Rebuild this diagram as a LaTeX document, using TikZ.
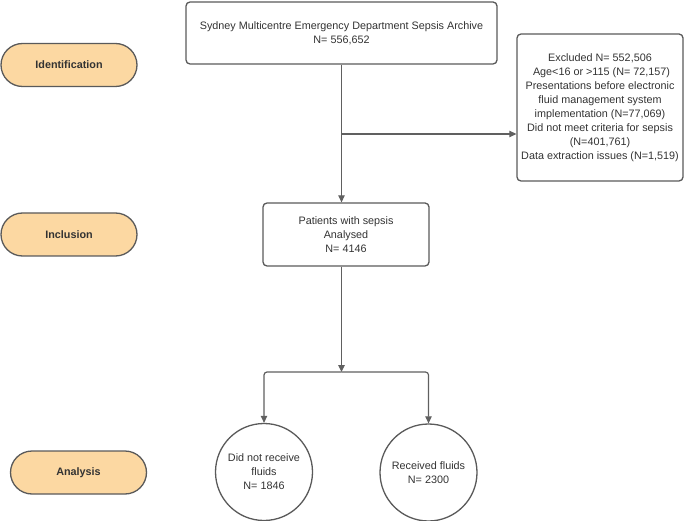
\documentclass[tikz,border=0pt]{standalone}
\usepackage{fontspec}
\setmainfont{Liberation Sans}
\usetikzlibrary{arrows.meta}
\definecolor{pillfill}{RGB}{252,216,162}
\definecolor{linegray}{RGB}{96,96,96}
\definecolor{bordergray}{RGB}{90,90,90}
\definecolor{txt}{RGB}{51,51,51}
\begin{document}
\begin{tikzpicture}[x=1pt,y=-1pt,
  every node/.style={text=txt, inner sep=0pt},
  box/.style={draw=bordergray, line width=1.3pt, rounded corners=4pt, fill=white,
    align=center, font=\fontsize{10.8}{14}\selectfont},
  circ/.style={draw=bordergray, line width=1.3pt, circle, fill=white,
    align=center, font=\fontsize{10.8}{14}\selectfont},
  pill/.style={draw=bordergray, line width=1.3pt, fill=pillfill, rounded corners=21.5pt,
    minimum width=136pt, minimum height=43pt, font=\fontsize{10.8}{13}\selectfont\bfseries},
  arr/.style={draw=linegray, line width=1.2pt, -{Triangle[length=7pt,width=6.5pt]}}
]
\useasboundingbox (0,0) rectangle (685,521);

% stage labels
\node[pill] (ident) at (69,65) {Identification};
\node[pill] (incl) at (69,234.5) {Inclusion};
\node[pill] (anal) at (78.5,472.5) {Analysis};

% boxes
\node[box, minimum width=311pt, minimum height=62pt] (top) at (341.5,33)
  {Sydney Multicentre Emergency Department Sepsis Archive\\N= 556,652};
\node[box, minimum width=166pt, minimum height=147pt] (exc) at (600,107.5)
  {Excluded N= 552,506\\
   \ Age<16 or >115 (N= 72,157)\\
   Presentations before electronic\\
   fluid management system\\
   implementation (N=77,069)\\
   Did not meet criteria for sepsis\\
   (N=401,761)\\
   Data extraction issues (N=1,519)};
\node[box, minimum width=166pt, minimum height=63pt] (pat) at (346,234.5)
  {Patients with sepsis\\Analysed\\N= 4146};

% outcome circles
\node[circ, minimum size=97pt] (c1) at (264,472) {Did not receive\\fluids\\N= 1846};
\node[circ, minimum size=97pt] (c2) at (428.5,472.5) {Received fluids\\N= 2300};

% connectors
\draw[arr] (top.south) -- (top.south |- pat.north);
\coordinate (brk) at (top.south |- 0,134);
\draw[arr] (brk) -- (brk -| exc.west);
\coordinate (pout) at (top.south |- pat.south);
\coordinate (sp) at (top.south |- 0,372);
\draw[arr] (pout) -- (sp);
\draw[arr, rounded corners=3pt] (sp) -| (c1.north);
\draw[arr, rounded corners=3pt] (sp) -| (c2.north);
\end{tikzpicture}
\end{document}
